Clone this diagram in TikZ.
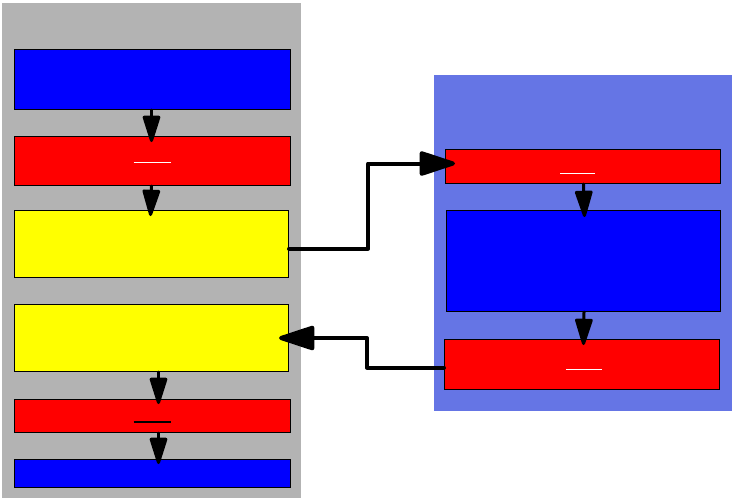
\documentclass[tikz,border=0pt]{standalone}
\usetikzlibrary{arrows.meta}
\definecolor{panelgray}{RGB}{179,179,179}
\definecolor{panelblue}{RGB}{101,117,229}
\definecolor{pureblue}{RGB}{0,0,255}
\definecolor{purered}{RGB}{255,0,0}
\definecolor{pureyellow}{RGB}{255,255,0}
\begin{document}
\begin{tikzpicture}[x=1pt,y=-1pt,
  box/.style={draw=black, line width=1pt, inner sep=0pt, anchor=north west},
  varr/.style={line width=3pt, line cap=round, -{Triangle[length=30pt,width=18pt,round]}},
  harr/.style={line width=4pt, line cap=round, line join=round, -{Triangle[length=40pt,width=25pt,round]}},
  mark line/.style={line width=1.2pt}]
\useasboundingbox (0,0) rectangle (735,501);
% panels
\fill[panelgray] (2,3) rectangle (301,498);
\fill[panelblue] (434,75) rectangle (732,411);
% left column
\node[box, fill=pureblue,   minimum width=276pt, minimum height=60pt]  (l1) at (14,49)  {};
\node[box, fill=purered,    minimum width=276pt, minimum height=49pt]  (l2) at (14,136) {};
\node[box, fill=pureyellow, minimum width=274pt, minimum height=67pt]  (l3) at (14,210) {};
\node[box, fill=pureyellow, minimum width=274pt, minimum height=67pt]  (l4) at (14,304) {};
\node[box, fill=purered,    minimum width=276pt, minimum height=33pt]  (l5) at (14,399) {};
\node[box, fill=pureblue,   minimum width=276pt, minimum height=28pt]  (l6) at (14,459) {};
% right column
\node[box, fill=purered,  minimum width=275pt, minimum height=34pt]  (r1) at (445,149) {};
\node[box, fill=pureblue, minimum width=274pt, minimum height=101pt] (r2) at (446,210) {};
\node[box, fill=purered,  minimum width=275pt, minimum height=50pt]  (r3) at (444,339) {};
% small marks inside red boxes
\draw[white, mark line] ([xshift=-19pt,yshift=-1.5pt]l2.center) -- ([xshift=18pt,yshift=-1.5pt]l2.center);
\draw[black, mark line] ([xshift=-19pt,yshift=-6pt]l5.center) -- ([xshift=18pt,yshift=-6pt]l5.center);
\draw[white, mark line] ([xshift=-23pt,yshift=-7pt]r1.center) -- ([xshift=12pt,yshift=-7pt]r1.center);
\draw[white, mark line] ([xshift=-16pt,yshift=-5pt]r3.center) -- ([xshift=20pt,yshift=-5pt]r3.center);
% vertical arrows
\draw[varr] ([xshift=-1pt]l1.south) -- ([xshift=-1pt,yshift=-6pt]l2.north);
\draw[varr] ([xshift=-1pt]l2.south) -- ([xshift=-1pt,yshift=-6pt]l3.north);
\draw[varr] ([xshift=7pt]l4.south) -- ([xshift=6pt,yshift=-5pt]l5.north);
\draw[varr] ([xshift=6pt]l5.south) -- ([xshift=6pt,yshift=-5pt]l6.north);
\draw[varr] ([xshift=0.5pt]r1.south) -- ([xshift=1pt,yshift=-7pt]r2.north);
\draw[varr] ([xshift=0.5pt]r2.south) -- ([xshift=1.5pt,yshift=-6pt]r3.north);
% connectors between panels
\draw[harr] ([yshift=-4.5pt]l3.east) -- ++(79pt,0pt) |- ([xshift=10pt,yshift=3pt]r1.west);
\draw[harr] ([yshift=-3pt]r3.west) -- ++(-77pt,0pt) |- ([xshift=-10pt]l4.east);
\end{tikzpicture}
\end{document}
